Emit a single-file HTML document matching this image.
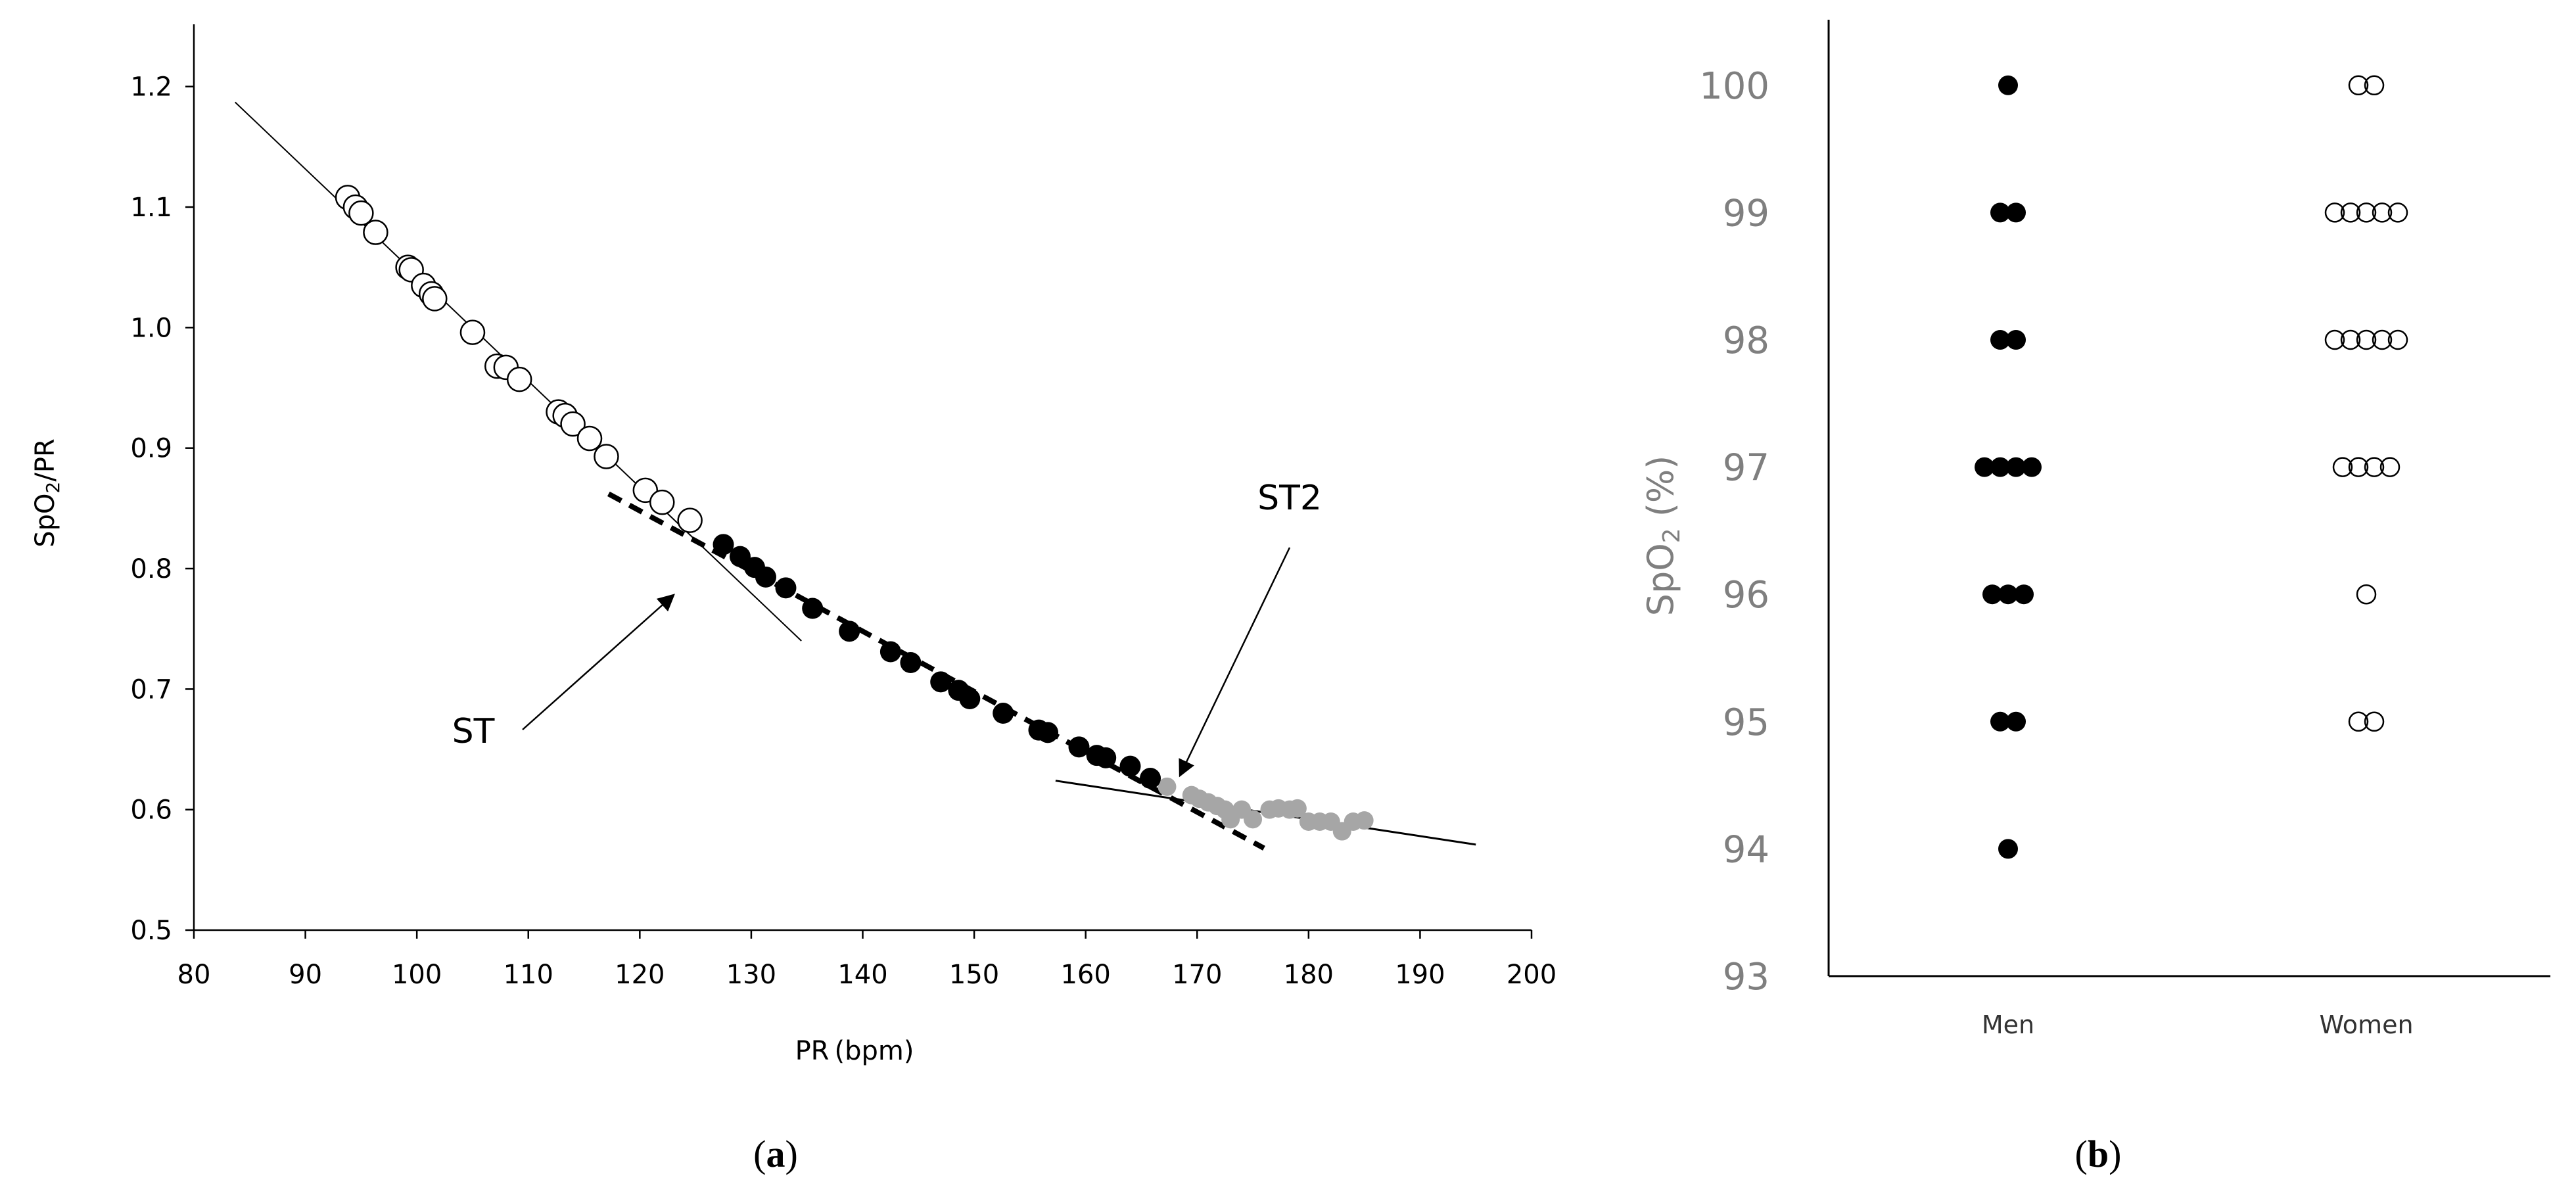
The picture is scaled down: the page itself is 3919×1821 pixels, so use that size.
<!DOCTYPE html>
<html><head><meta charset="utf-8"><style>
html,body{margin:0;padding:0;background:#fff;}
svg{display:block;}
text{font-family:"DejaVu Sans","Liberation Sans",sans-serif;}
</style></head><body>
<svg id="fig" width="3919" height="1821" viewBox="0 0 3919 1821" xmlns="http://www.w3.org/2000/svg">
<defs>
<marker id="arrBig" viewBox="0 0 10 10" refX="9" refY="5" markerWidth="32" markerHeight="26" markerUnits="userSpaceOnUse" orient="auto">
<path d="M0,0 L10,5 L0,10 z" fill="#000"/>
</marker>
</defs>
<g id="pa"></g>
<g id="pb"></g>
<text x="1180" y="1775" text-anchor="middle" font-size="58" style="font-family:'Liberation Serif',serif">(<tspan font-weight="bold">a</tspan>)</text>
<text x="3192" y="1775" text-anchor="middle" font-size="58" style="font-family:'Liberation Serif',serif">(<tspan font-weight="bold">b</tspan>)</text>
</svg>
<script>
// Panel a data
const aXTicks = [80,90,100,110,120,130,140,150,160,170,180,190,200];
const aYTicks = [0.5,0.6,0.7,0.8,0.9,1.0,1.1,1.2];
const openPR = [93.8,94.5,95,96.3,99.2,99.5,100.6,101.3,101.6,105,107.2,108,109.2,112.7,113.3,114,115.5,117,120.5,122,124.5];
const openRatio = [1.108,1.100,1.095,1.079,1.050,1.048,1.035,1.028,1.024,0.996,0.968,0.967,0.957,0.930,0.927,0.920,0.908,0.893,0.865,0.855,0.840];
const blackPR = [127.5,129,130.3,131.3,133.1,135.5,138.8,142.5,144.3,147,148.6,149.6,152.6,155.8,156.6,159.4,161,161.8,164,165.8];
const blackRatio = [0.820,0.810,0.801,0.793,0.784,0.767,0.748,0.731,0.722,0.706,0.699,0.692,0.680,0.666,0.664,0.652,0.645,0.643,0.636,0.626];
const grayPR = [167.3,169.5,170.2,171,171.8,172.5,173,174,175,176.5,177.3,178.3,179,180,181,182,183,184,185];
const grayRatio = [0.619,0.612,0.609,0.606,0.603,0.600,0.592,0.600,0.592,0.600,0.601,0.600,0.601,0.590,0.590,0.590,0.582,0.590,0.591];
const line1 = [[83.7,1.187],[134.5,0.740]];
const lineST = [[117.2,0.862],[176,0.568]];
const lineST2 = [[157.3,0.624],[195,0.571]];
// Panel b data
const groups = ["Men","Women"];
const bYTicks = [93,94,95,96,97,98,99,100];
const spo2Levels = [100,99,98,97,96,95,94];
const menCounts = [1,2,2,4,3,2,1];
const womenCounts = [2,5,5,4,1,2,0];

const NS="http://www.w3.org/2000/svg";
function mk(parent,tag,attrs,text){const e=document.createElementNS(NS,tag);for(const k in attrs)e.setAttribute(k,attrs[k]);if(text!==undefined)e.textContent=text;parent.appendChild(e);return e;}

// ---- Panel a ----
const pa=document.getElementById('pa');
const ax=v=>295+(v-80)*(2330-295)/120;
const ay=v=>1415-(v-0.5)*1833.3;
let e;
e=mk(pa,'line',{x1:295,y1:37,x2:295,y2:1415,stroke:'#000','stroke-width':2.5});


e=mk(pa,'line',{x1:295,y1:1415,x2:2330,y2:1415,stroke:'#000','stroke-width':2.5});


aYTicks.forEach(t=>{
  mk(pa,'line',{x1:282,y1:ay(t),x2:295,y2:ay(t),stroke:'#000','stroke-width':2.5});
  e=mk(pa,'text',{x:262,y:ay(t)+14,'text-anchor':'end','font-size':40},t.toFixed(1));
  
  
});
aXTicks.forEach(t=>{
  mk(pa,'line',{x1:ax(t),y1:1415,x2:ax(t),y2:1428,stroke:'#000','stroke-width':2.5});
  e=mk(pa,'text',{x:ax(t),y:1496,'text-anchor':'middle','font-size':40},String(t));
  
  
});
e=mk(pa,'text',{x:1300,y:1612,'text-anchor':'middle','font-size':40},'PR\u2009(bpm)');


e=mk(pa,'text',{x:0,y:0,'text-anchor':'middle','font-size':40,transform:'translate(82,750) rotate(-90)'});
e.innerHTML='SpO<tspan font-size="28" dy="8">2</tspan><tspan dy="-8">/PR</tspan>';


e=mk(pa,'line',{x1:ax(line1[0][0]),y1:ay(line1[0][1]),x2:ax(line1[1][0]),y2:ay(line1[1][1]),stroke:'#000','stroke-width':2});


e=mk(pa,'line',{x1:ax(lineST[0][0]),y1:ay(lineST[0][1]),x2:ax(lineST[1][0]),y2:ay(lineST[1][1]),stroke:'#000','stroke-width':8,'stroke-dasharray':'22,14'});


e=mk(pa,'line',{x1:ax(lineST2[0][0]),y1:ay(lineST2[0][1]),x2:ax(lineST2[1][0]),y2:ay(lineST2[1][1]),stroke:'#000','stroke-width':3});


grayPR.forEach((p,i)=>{e=mk(pa,'circle',{cx:ax(p),cy:ay(grayRatio[i]),r:14,fill:'#a6a6a6'});

});
openPR.forEach((p,i)=>{e=mk(pa,'circle',{cx:ax(p),cy:ay(openRatio[i]),r:18,fill:'#fff',stroke:'#000','stroke-width':2.5});

});
blackPR.forEach((p,i)=>{e=mk(pa,'circle',{cx:ax(p),cy:ay(blackRatio[i]),r:16,fill:'#000'});

});
e=mk(pa,'line',{x1:795,y1:1110,x2:1025,y2:905,stroke:'#000','stroke-width':2.5,'marker-end':'url(#arrBig)'});


e=mk(pa,'text',{x:720,y:1130,'text-anchor':'middle','font-size':52},'ST');


e=mk(pa,'line',{x1:1962,y1:833,x2:1795,y2:1180,stroke:'#000','stroke-width':2.5,'marker-end':'url(#arrBig)'});


e=mk(pa,'text',{x:1962,y:775,'text-anchor':'middle','font-size':52},'ST2');



// ---- Panel b ----
const pb=document.getElementById('pb');
const by=v=>1485-(v-93)*193.6;
const gx=[3055,3600];
e=mk(pb,'line',{x1:2782,y1:30,x2:2782,y2:1485,stroke:'#000','stroke-width':3});


e=mk(pb,'line',{x1:2782,y1:1485,x2:3880,y2:1485,stroke:'#000','stroke-width':3});


bYTicks.forEach(t=>{
  e=mk(pb,'text',{x:2692,y:by(t)+20,'text-anchor':'end','font-size':56,fill:'#7f7f7f'},String(t));
  
  
});
e=mk(pb,'text',{x:0,y:0,'text-anchor':'middle','font-size':54,fill:'#7f7f7f',transform:'translate(2545,815) rotate(-90)'});
e.innerHTML='SpO<tspan font-size="36" dy="10">2</tspan><tspan dy="-10"> (%)</tspan>';


groups.forEach((g,i)=>{
  e=mk(pb,'text',{x:gx[i],y:1572,'text-anchor':'middle','font-size':38,fill:'#333'},g);
  
  
});
const sp=24;
spo2Levels.forEach((lv,j)=>{
  const n=menCounts[j];
  for(let k=0;k<n;k++){
    e=mk(pb,'circle',{cx:gx[0]+(k-(n-1)/2)*sp,cy:by(lv),r:15,fill:'#000'});
    
    
  }
  const m=womenCounts[j];
  for(let k=0;k<m;k++){
    e=mk(pb,'circle',{cx:gx[1]+(k-(m-1)/2)*sp,cy:by(lv),r:14,fill:'none',stroke:'#000','stroke-width':2.5});
    
    
  }
});
</script>
</body></html>
